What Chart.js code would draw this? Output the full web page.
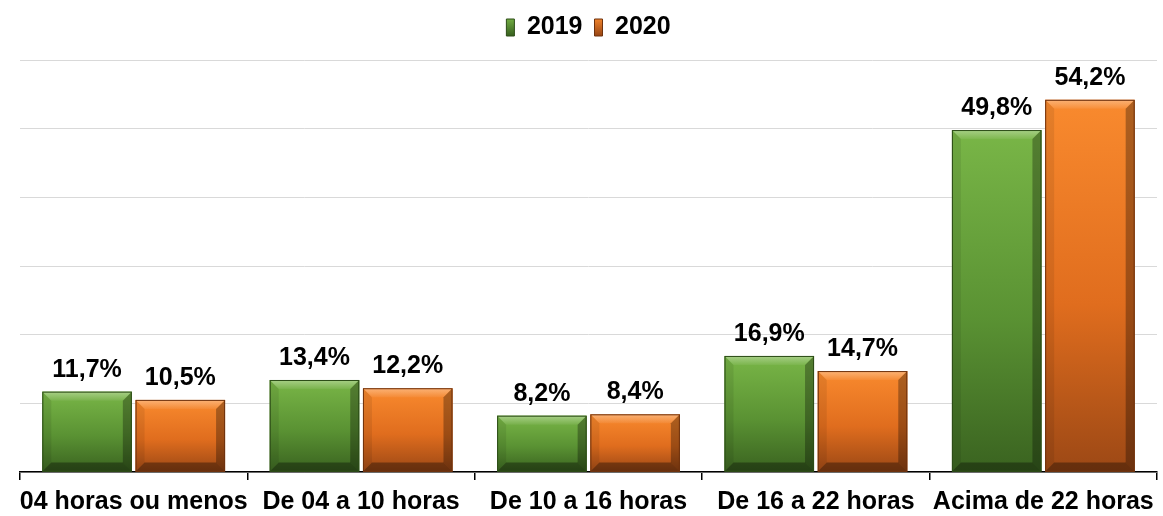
<!DOCTYPE html>
<html>
<head>
<meta charset="utf-8">
<script src="https://cdn.jsdelivr.net/npm/chart.js@4"></script>
<style>
  html, body { margin: 0; padding: 0; background: #fff; }
  #wrap { width: 1163px; height: 516px; }
</style>
</head>
<body>
<div id="wrap"><canvas id="barChart"></canvas></div>
<script>
var categories = ["04 horas ou menos", "De 04 a 10 horas", "De 10 a 16 horas", "De 16 a 22 horas", "Acima de 22 horas"];
var values2019 = [11.7, 13.4, 8.2, 16.9, 49.8];
var values2020 = [10.5, 12.2, 8.4, 14.7, 54.2];

var shades = [
  { top: "#79b647", mid: "#5a9233", bottom: "#3a6320", edge: "#2c4c17" },
  { top: "#f98a2e", mid: "#e06d1e", bottom: "#9c4815", edge: "#6e320e" }
];

var fontFamily = "'Liberation Sans', Arial, sans-serif";

// bevelled 3D look for each bar
var bevelBars = {
  id: "bevelBars",
  afterDatasetsDraw: function (chart) {
    var c = chart.ctx;
    chart.data.datasets.forEach(function (ds, i) {
      var s = shades[i];
      chart.getDatasetMeta(i).data.forEach(function (bar) {
        var l = bar.x - bar.width / 2, r = bar.x + bar.width / 2;
        var t = bar.y, b = bar.base;
        var h = b - t, bv = Math.min(9, h / 3);
        c.save();
        var g = c.createLinearGradient(0, t, 0, b);
        g.addColorStop(0, s.top);
        g.addColorStop(0.55, s.mid);
        g.addColorStop(1, s.bottom);
        c.fillStyle = g;
        c.fillRect(l, t, r - l, h);
        // top bevel
        var tg = c.createLinearGradient(0, t, 0, t + bv);
        tg.addColorStop(0, "rgba(255,255,255,0.35)");
        tg.addColorStop(1, "rgba(255,255,255,0.05)");
        c.fillStyle = tg;
        c.beginPath();
        c.moveTo(l, t); c.lineTo(r, t); c.lineTo(r - bv, t + bv); c.lineTo(l + bv, t + bv);
        c.closePath(); c.fill();
        // left bevel
        c.fillStyle = "rgba(0,0,0,0.08)";
        c.beginPath();
        c.moveTo(l, t); c.lineTo(l + bv, t + bv); c.lineTo(l + bv, b - bv); c.lineTo(l, b);
        c.closePath(); c.fill();
        // right bevel
        c.fillStyle = "rgba(0,0,0,0.3)";
        c.beginPath();
        c.moveTo(r, t); c.lineTo(r - bv, t + bv); c.lineTo(r - bv, b - bv); c.lineTo(r, b);
        c.closePath(); c.fill();
        // bottom bevel
        c.fillStyle = "rgba(0,0,0,0.35)";
        c.beginPath();
        c.moveTo(l, b); c.lineTo(l + bv, b - bv); c.lineTo(r - bv, b - bv); c.lineTo(r, b);
        c.closePath(); c.fill();
        c.strokeStyle = s.edge;
        c.lineWidth = 1;
        c.strokeRect(l + 0.5, t + 0.5, r - l - 1, h - 1);
        c.restore();
      });
    });
  }
};

var valueLabels = {
  id: "valueLabels",
  afterDatasetsDraw: function (chart) {
    var c = chart.ctx;
    c.save();
    c.font = "bold 25px " + fontFamily;
    c.fillStyle = "#000";
    c.textAlign = "center";
    c.textBaseline = "middle";
    chart.data.datasets.forEach(function (ds, i) {
      chart.getDatasetMeta(i).data.forEach(function (bar, j) {
        c.fillText(ds.data[j].toFixed(1).replace(".", ",") + "%", bar.x, bar.y - 22);
      });
    });
    c.restore();
  }
};

// extra room under the legend
var legendGap = {
  id: "legendGap",
  beforeInit: function (chart) {
    var origFit = chart.legend.fit;
    chart.legend.fit = function () {
      origFit.bind(chart.legend)();
      this.height += 10;
    };
  }
};

var ctx = document.getElementById("barChart").getContext("2d");
var barChart = new Chart(ctx, {
  type: "bar",
  data: {
    labels: categories,
    datasets: [
      { label: "2019", data: values2019, backgroundColor: shades[0].mid },
      { label: "2020", data: values2020, backgroundColor: shades[1].mid }
    ]
  },
  options: {
    responsive: true,
    maintainAspectRatio: false,
    animation: false,
    layout: { padding: { left: 20, right: 6, top: 3, bottom: 1 } },
    categoryPercentage: 0.82,
    barPercentage: 0.96,
    plugins: {
      legend: {
        position: "top",
        labels: {
          boxWidth: 8,
          boxHeight: 17,
          padding: 12,
          color: "#000",
          font: { family: fontFamily, size: 25, weight: "bold" },
          generateLabels: function (chart) {
            return chart.data.datasets.map(function (ds, i) {
              var g = chart.ctx.createLinearGradient(0, 17, 0, 35);
              g.addColorStop(0, shades[i].top);
              g.addColorStop(1, shades[i].bottom);
              return { text: ds.label, fillStyle: g, strokeStyle: shades[i].edge, lineWidth: 1, datasetIndex: i };
            });
          }
        }
      },
      tooltip: { enabled: false }
    },
    scales: {
      x: {
        afterFit: function (scale) { scale.height = 43; },
        grid: { drawOnChartArea: false, color: "#000", tickLength: 8, lineWidth: 1.5 },
        border: { color: "#000", width: 1.5 },
        ticks: {
          color: "#000",
          padding: 7,
          autoSkip: false,
          maxRotation: 0,
          font: { family: fontFamily, size: 25, weight: "bold" }
        }
      },
      y: {
        min: 0,
        max: 60,
        ticks: { stepSize: 10, display: false },
        grid: { color: "#d9d9d9", lineWidth: 1, drawTicks: false },
        border: { display: false }
      }
    }
  },
  plugins: [legendGap, bevelBars, valueLabels]
});
</script>
</body>
</html>
